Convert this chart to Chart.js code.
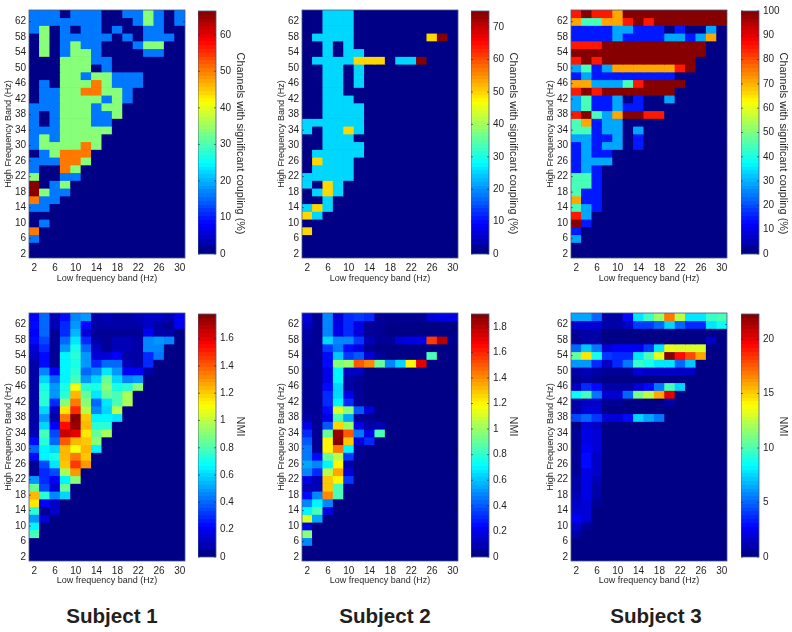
<!DOCTYPE html>
<html><head><meta charset="utf-8">
<script src="https://cdn.jsdelivr.net/npm/chart.js@4"></script>
<style>
html,body{margin:0;padding:0;background:#fff;width:792px;height:632px;overflow:hidden}
canvas{position:absolute;display:block;filter:blur(.35px)}
.subj{position:absolute;top:604px;transform:translateX(-50%);font:bold 20.6px "Liberation Sans",Arial,sans-serif;color:#231f20;white-space:nowrap}
</style></head><body>
<div class="subj" style="left:112px">Subject 1</div>
<div class="subj" style="left:385px">Subject 2</div>
<div class="subj" style="left:656px">Subject 3</div>
<script>
const lowBands=[2,4,6,8,10,12,14,16,18,20,22,24,26,28,30];
const highBands=[64,62,60,58,56,54,52,50,48,46,44,42,40,38,36,34,32,30,28,26,24,22,20,18,16,14,12,10,8,6,4,2];
const lowTicks=[2,6,10,14,18,22,26,30];
const highTicks=[2,6,10,14,18,22,26,30,34,38,42,46,50,54,58,62];
const A=16.6,B=33.3,C=50,D=66.5;
const channels1=[
[A,A,A,0,A,A,A,0,0,A,A,B,A,0,A],
[A,A,A,A,A,A,A,0,0,0,A,B,A,0,A],
[A,B,0,A,0,A,A,0,A,0,0,A,A,0,0],
[0,B,0,A,A,A,A,A,0,A,0,A,A,A,0],
[0,B,0,A,B,A,A,0,0,0,A,B,B,0,0],
[0,B,0,A,B,B,A,0,0,0,0,A,A,0,0],
[0,0,0,B,B,B,A,A],
[0,0,0,B,B,B,0,A],
[0,0,0,B,B,A,B,B,A,A,A],
[0,A,0,B,B,B,C,B,A,A,A],
[0,A,A,B,B,C,C,B,B,A],
[0,A,A,B,B,B,B,A,B,A],
[A,A,A,B,B,B,A,B,B],
[A,0,A,B,B,B,A,A,B],
[A,0,A,B,B,B,A,A],
[A,A,A,B,B,B,B,B],
[A,B,A,B,B,B,B],
[A,B,B,B,B,C,B],
[0,A,B,C,C,C],
[A,A,A,C,C,B],
[A,0,0,C,B],
[B,0,0,A,A],
[D,0,A,B],
[D,B,A,A],
[C,A,A],
[A,A],
[],
[0,A],
[C],
[A],
[],
[]];
const E=25,F=50,G=75;
const channels2=[
[0,0,E,E,E],
[0,0,E,E,E],
[0,0,E,E,E],
[0,E,E,E,E,0,0,0,0,0,0,0,F,G],
[0,0,E,0,E],
[0,0,E,0,E,E],
[0,E,E,E,E,F,F,F,0,E,E,G],
[0,0,E,E,0,E],
[0,0,E,E,0,E],
[0,0,E,E,0,E],
[0,0,E,E],
[0,0,E,E,E],
[0,0,E,E,E,E],
[0,0,E,E,E,E],
[E,E,E,E,E,E],
[E,0,E,E,F,E],
[0,0,E,E,E],
[0,0,E,E,E,E],
[0,E,E,E,E,E],
[0,F,E,E,E],
[0,E,E,E,E],
[E,E,E,E,E],
[E,0,F,E],
[0,E,F,E],
[0,0,E],
[E,F,E],
[F,E],
[],
[F],
[],
[],
[]];
const a=14.3,b=28.6,g=45,y=71.4,r=85.7,d=100;
const channels3=[
[r,d,r,r,y,d,d,d,d,d,d,d,d,d,d],
[y,g,g,y,y,r,d,r,d,d,d,d,d,d,d],
[a,a,a,a,b,b,a,a,a,0,a,0,0,b,0],
[a,a,a,a,b,a,a,a,a,b,b,a,b,y,0],
[r,r,r,d,d,d,d,d,d,d,d,d,d],
[d,d,d,d,d,d,d,d,d,d,d,d,d],
[r,d,r,d,d,d,d,d,d,d,d,d],
[b,g,a,b,y,y,y,y,y,y,r,d],
[a,b,a,a,a,a,a,a,a,a],
[y,y,b,b,b,g,r,d,d,d,d],
[r,d,r,d,d,d,d,d,d,d],
[b,g,a,a,b,0,a,0,0,b],
[b,g,a,a,b,a,a],
[r,d,g,b,y,d,d,r,r],
[g,y,a,b,b],
[g,g,a,b,b,0,b],
[b,b,a,a,b,0,a],
[a,b,a,b,b,0,a],
[a,b,a,a],
[a,b,b,b],
[a,b,a],
[g,g,a],
[g,g,a],
[g,a,a],
[y,a,a],
[g,b,a],
[r,b],
[d,a],
[a],
[b],
[],
[]];
const nmi1=[
[.2,.4,.1,.25,.45,.5,.08,.1,.06,.08,.1,.12,.12,.1,.2],
[.25,.4,.1,.3,.5,.25,.07,.06,.06,.06,.06,.12,.06,.05,.2],
[.22,.4,.05,.3,.55,.15,.05,.05,.05,.05,.05,.2,.08,.08],
[.25,.35,.05,.4,.62,.3,.06,.05,.1,.1,.06,.45,.5,.45],
[.15,.3,.05,.5,.7,.4,.12,.05,.1,.1,.06,.45,.45],
[.12,.25,.05,.65,.75,.5,.15,.15,.2,.08,.07,.3,.42],
[.08,.25,.05,.65,.7,.5,.3,.4,.4,.1,.08,.3],
[.06,.45,.2,.65,.75,.4,.45,.62,.5,.2,.2,.08],
[.06,.6,.4,.65,.8,.5,.6,.85,.6,.45,.5],
[.06,.72,.5,.7,1.1,.75,.7,.9,.7,.75,.9],
[.06,.75,.5,.75,1.25,.85,.62,.85,.8,.95],
[.08,.75,.3,.9,1.35,.9,.4,.62,.8,.95],
[.08,.6,.12,1.15,1.5,1,.45,.6,1],
[.08,.5,.08,1.35,1.78,1.2,.65,.65,.62],
[.06,.6,.2,1.55,1.75,1.25,.75,.75],
[.1,.8,.35,1.65,1.6,1.15,.85,.95],
[.25,.75,.4,1.4,1.25,1.2,.9],
[.4,.65,.6,1.25,1.1,1.25,.65],
[.25,.65,.7,1.25,1.35,1.2],
[.05,.35,.62,1.2,1.45,1.3],
[.05,.3,.35,.95,1.3],
[.5,.3,.2,.65,.9],
[.85,.35,.15,.85],
[1.25,.75,.45,.6],
[1.15,.2,.12],
[.75,.05,.12],
[.5,.15],
[.65],
[.8],
[],
[],
[]];
const nmi2=[
[.15,.05,.5,.15,.3,.35,.3,.05,.05,.05,.05,.05,.15,.2,.2],
[.12,.05,.5,.2,.3,.2,.05,.05],
[.08,.05,.5,.2,.3,.15,.05,.05],
[.08,.05,.65,.5,.5,.35,.1,.05,.05,.15,.2,.2,1.55,1.8,.05],
[.05,.05,.35,.45,.25,.2,.05],
[.05,.05,.25,.6,.35,.4,.15,.05,0,0,0,0,.85],
[.08,.05,.25,.95,1,1.5,1.4,.9,.5,.65,1.2,1.7],
[.05,.05,.2,.7,.12,.12],
[.05,.05,.2,.7,.08,.05],
[.05,.05,.25,.65,.08,.05],
[.05,.05,.3,.65,.2,.05],
[.05,.05,.3,.7,.3,.05],
[.05,.05,.25,1.1,.95,.4,.15],
[.08,.05,.2,.85,.55,.05,.05],
[.2,.05,.4,1.25,1,.2,.06,.1],
[.3,.05,.9,1.85,1.5,.45,.2,.85],
[.4,.05,1.2,1.9,1.3,.15,.3],
[.45,.05,1.2,1.45,.7,.05],
[.45,.25,.9,1.05,.35,.05],
[.55,.5,.7,1.2,.08],
[.5,.3,1.05,1.35,.15],
[.2,.1,1.3,1.2,.35],
[.1,.1,1.3,.85,.05],
[.25,.5,1.4,.85],
[.5,.7,.5],
[.7,.85,.2],
[1.1,.55],
[.2],
[.95],
[.5],
[],
[]];
const nmi3=[
[6.5,6.5,5,1,1,3,8,9.5,11.5,17,12.5,8,8,9.5,10],
[2,2,2,.8,.8,1.5,4,4,5,7.5,5,3.5,3.5,8,8.5],
[.5,.7,.8,.3,.3,.3,.3,.3,.3,.3,.3,.3,.3,.3],
[.5,1,1,.3,.3,.3,.3,.3,.3,.3,.3,.3,.3,1.5],
[5,7,5.5,2,2.5,2.5,2.5,4,8,13.5,13,13,13],
[10.5,14.5,9,4,3.5,3.5,8,10,13.5,22.3,19.5,18,16],
[6,6,3.5,1.5,3.5,5.5,9.5,9,8,8,5,7],
[.7,1.2,1,.5,.5,.5,2,1.5,1.5,1.5,1.5,1.5],
[.5,.7,.6,.3,.3,.3,.3,.3,.3,.3,.3],
[1.5,3.5,3,1,1,.8,2,3,5.5,10,7.5],
[8.5,10,5.5,2,2,5,11,12.5,16,20],
[.8,1.5,1.5,.5,.5,.3,.3,.3,.3,1],
[.8,2,2,.3,.3,.3,.3,.3],
[4.5,5,4,2,2,3,7.5,6.5,5.5],
[.3,2,1.7,.2,.2,.2,.2,.2],
[.5,2.3,2],
[.5,2.3,2],
[.5,2.5,2],
[.5,3,1.7],
[.5,2.8,1.5],
[.5,2.3,1.5],
[.7,2.3,1.3],
[.8,2.2,1],
[1.2,2.2,.8],
[1.6,1.8,.5],
[2,1.8,.3],
[2.7,1.8,.1],
[1.4,.4],
[.7,.2],
[],
[],
[]];
const barTicks1=[0,10,20,30,40,50,60];
const barTicks2=[0,10,20,30,40,50,60,70];
const barTicks3=[0,10,20,30,40,50,60,70,80,90,100];
const barTicks4=[0,.2,.4,.6,.8,1,1.2,1.4,1.6];
const barTicks5=[0,.2,.4,.6,.8,1,1.2,1.4,1.6,1.8];
const barTicks6=[0,5,10,15,20];
const channelsTitle="Channels with significant coupling (%)";
const nmiTitle="NMI";

const FONT='"Liberation Sans",Arial,sans-serif';
const INK='#231f20';
const FRAME='#4a5a86';

function jet(f){
  const s=Math.min(63,Math.floor(Math.max(0,Math.min(1,f))*64));
  const t=(s+.5)/64*4;
  const c=x=>Math.round(255*Math.max(0,Math.min(1,x)));
  return `rgb(${c(Math.min(t-1.5,-t+4.5))},${c(Math.min(t-.5,-t+3.5))},${c(Math.min(t+.5,-t+2.5))})`;
}
const heatFrame={
  id:'heatFrame',
  beforeDatasetsDraw(chart){
    const {ctx,chartArea:c}=chart;
    const o=chart.options.plugins.heatFrame||{};
    if(o.fill){ctx.save();ctx.fillStyle=o.fill;ctx.fillRect(c.left,c.top,c.width,c.height);ctx.restore();}
  },
  afterDatasetsDraw(chart){
    const {ctx,chartArea:c,scales}=chart;
    ctx.save();
    ctx.strokeStyle=FRAME;ctx.lineWidth=.8;
    ctx.strokeRect(c.left,c.top,c.width,c.height);
    ctx.strokeStyle='rgba(30,30,60,.7)';
    const t=2;
    ctx.beginPath();
    for(const id of Object.keys(scales)){
      const s=scales[id];
      s.ticks.forEach((k,i)=>{
        if(k.label===''||k.label===undefined)return;
        const p=s.getPixelForTick(i);
        if(s.isHorizontal()){
          if(c.width<30)return;
          ctx.moveTo(p,c.bottom);ctx.lineTo(p,c.bottom-t);
        }else{
          ctx.moveTo(c.left,p);ctx.lineTo(c.left+t,p);
          ctx.moveTo(c.right,p);ctx.lineTo(c.right-t,p);
        }
      });
    }
    ctx.stroke();ctx.restore();
  }
};
const noGrid={display:false,drawTicks:false,tickLength:0};
function mk(left,top,w,h){
  const cv=document.createElement('canvas');
  cv.width=w;cv.height=h;cv.style.left=left+'px';cv.style.top=top+'px';
  document.body.appendChild(cv);return cv;
}
function heat(px,py,rows,max,footH){
  const cv=mk(px-29,py-6,29+156+10,6+251+footH);
  const datasets=highBands.map((hz,i)=>{
    const row=lowBands.map((_,c)=>rows[i][c]||0);
    return {data:row.map(()=>[hz-1,hz+1]),backgroundColor:row.map(v=>jet(v/max)),
      borderWidth:0,barPercentage:1,categoryPercentage:1,grouped:false};
  });
  new Chart(cv,{type:'bar',plugins:[heatFrame],
    data:{labels:lowBands,datasets},
    options:{responsive:false,animation:false,events:[],
      layout:{padding:{top:6,right:10,left:0,bottom:0}},
      plugins:{legend:{display:false},tooltip:{enabled:false},title:{display:false},heatFrame:{fill:jet(0)}},
      scales:{
        x:{type:'category',offset:true,grid:noGrid,border:{display:false},
          afterFit(s){s.height=footH;},
          ticks:{maxRotation:0,autoSkip:false,padding:4,color:INK,font:{family:FONT,size:10},
            callback(v){const l=lowBands[v];return lowTicks.includes(l)?String(l):'';}},
          title:{display:true,text:'Low frequency band (Hz)',color:INK,font:{family:FONT,size:9},padding:{top:0,bottom:1}}},
        y:{type:'linear',min:1,max:65,grid:noGrid,border:{display:false},
          afterBuildTicks(s){s.ticks=highTicks.map(v=>({value:v}));},
          afterFit(s){s.width=29;},
          ticks:{autoSkip:false,padding:3,color:INK,font:{family:FONT,size:10}},
          title:{display:true,text:'High Frequency Band (Hz)',color:INK,font:{family:FONT,size:9.1},padding:{top:3,bottom:0}}}
      }}});
}
function colorbar(px,py,ticks,max,title,titleShift){
  const cv=mk(px,py-6,18+30,6+251+6);
  new Chart(cv,{type:'bar',plugins:[heatFrame],
    data:{labels:[''],datasets:[{data:[[0,max]],borderWidth:0,barPercentage:1,categoryPercentage:1,
      backgroundColor(ctx){
        const c=ctx.chart.chartArea;if(!c)return '#000';
        const gr=ctx.chart.ctx.createLinearGradient(0,c.bottom,0,c.top);
        for(let i=0;i<64;i++){gr.addColorStop(i/64,jet((i+.5)/64));gr.addColorStop((i+1)/64,jet((i+.5)/64));}
        return gr;
      }}]},
    options:{responsive:false,animation:false,events:[],
      layout:{padding:{top:6,bottom:6,left:0,right:0}},
      plugins:{legend:{display:false},tooltip:{enabled:false},title:{display:false},heatFrame:{}},
      scales:{
        x:{type:'category',offset:true,display:true,grid:noGrid,border:{display:false},
          ticks:{display:false},afterFit(s){s.height=0;}},
        y:{type:'linear',position:'right',min:0,max,grid:noGrid,border:{display:false},
          afterBuildTicks(s){s.ticks=ticks.map(v=>({value:v}));},
          afterFit(s){
            s.width=30;
            if(!s.shifted){
              const drawTitle=s.drawTitle;
              s.drawTitle=function(){this.ctx.save();this.ctx.translate(0,titleShift);drawTitle.call(this);this.ctx.restore();};
              s.shifted=true;
            }
          },
          ticks:{autoSkip:false,padding:4,color:INK,font:{family:FONT,size:10},callback(v){return String(v);}},
          title:{display:true,text:title,color:INK,font:{family:FONT,size:10.8},padding:{top:0,bottom:0}}}
      }}});
}
const colsX=[29,302,571], barsX=[198,471,741], topY=7, botY=310;
const topFoot=27, botFoot=26;
heat(colsX[0],topY,channels1,66.5,topFoot);colorbar(barsX[0],topY,barTicks1,66.5,channelsTitle,11);
heat(colsX[1],topY,channels2,75,topFoot);colorbar(barsX[1],topY,barTicks2,75,channelsTitle,11);
heat(colsX[2],topY,channels3,100,topFoot);colorbar(barsX[2],topY,barTicks3,100,channelsTitle,11);
heat(colsX[0],botY,nmi1,1.78,botFoot);colorbar(barsX[0],botY,barTicks4,1.78,nmiTitle,-9);
heat(colsX[1],botY,nmi2,1.9,botFoot);colorbar(barsX[1],botY,barTicks5,1.9,nmiTitle,-9);
heat(colsX[2],botY,nmi3,22.3,botFoot);colorbar(barsX[2],botY,barTicks6,22.3,nmiTitle,-9);
</script>
</body></html>
